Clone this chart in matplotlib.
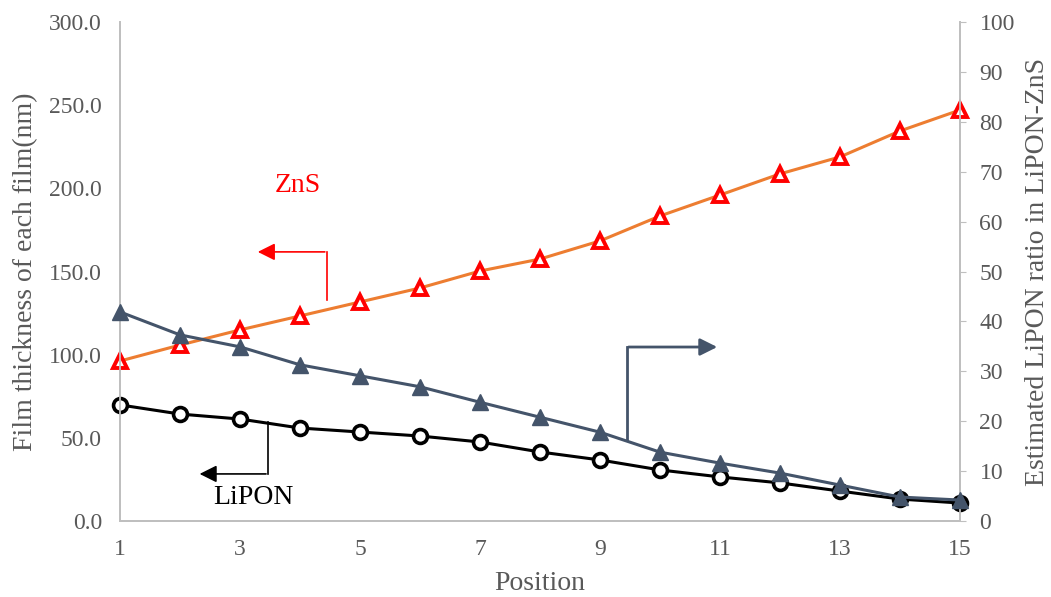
import numpy as np
import matplotlib.pyplot as plt

plt.rcParams['font.family'] = ['Liberation Serif', 'DejaVu Serif']

# datos
posicion = list(range(1, 16))
zns = [96.2, 105.8, 114.9, 123.3, 131.7, 140.1, 150.3, 157.5, 168.4, 183.4, 196.0, 208.7, 218.9, 234.5, 247.1]
lipon = [69.8, 64.3, 61.3, 55.9, 53.5, 51.1, 47.5, 41.5, 36.7, 30.7, 26.5, 22.9, 18.0, 13.2, 10.8]
ratio = [41.9, 37.3, 34.9, 31.3, 29.1, 26.9, 23.8, 20.8, 17.8, 13.8, 11.6, 9.6, 7.2, 4.8, 4.2]

x_ticks = [1, 3, 5, 7, 9, 11, 13, 15]
gris = '#BFBFBF'
gris_txt = '#595959'
azul = '#44546A'

fig = plt.figure(figsize=(10.51, 5.97), dpi=100)
ax = fig.add_axes([0.1142, 0.1273, 0.7992, 0.8358])
ax2 = ax.twinx()

ax.plot(posicion, zns, color='#ED7D31', lw=2.2, marker='^', ms=10, mfc='white', mec='red', mew=2.8, zorder=3, clip_on=False)
ax.plot(posicion, lipon, color='black', lw=2.2, marker='o', ms=10, mfc='white', mec='black', mew=2.6, zorder=3, clip_on=False)
ax2.plot(posicion, ratio, color=azul, lw=2.2, marker='^', ms=11, mfc=azul, mec=azul, zorder=3, clip_on=False)

ax.set_xlim(1, 15)
ax.set_ylim(0, 300)
ax2.set_ylim(0, 100)
ax.set_xticks(x_ticks)
ax.set_yticks(np.arange(0, 301, 50))
ax.set_yticklabels([f'{v:.1f}' for v in np.arange(0, 301, 50)])
ax2.set_yticks(np.arange(0, 101, 10))

for a in (ax, ax2):
    for s in a.spines.values():
        s.set_color(gris)
        s.set_linewidth(1.3)
    a.spines['top'].set_visible(False)
ax.tick_params(axis='y', length=0, labelsize=17, labelcolor=gris_txt, pad=13)
ax.tick_params(axis='x', length=0, labelsize=17, labelcolor=gris_txt, pad=13)
ax2.tick_params(axis='y', length=4, color=gris, labelsize=17, labelcolor=gris_txt, pad=10)

ax.set_xlabel('Position', fontsize=20, color=gris_txt, labelpad=8)
ax.set_ylabel('Film thickness of each film(nm)', fontsize=20, color=gris_txt, labelpad=8)
ax2.set_ylabel('Estimated LiPON ratio in LiPON-ZnS', fontsize=20, color=gris_txt, labelpad=7)

# flechas indicadoras
ax.plot([4.45, 4.45], [132.9, 161.8], color='red', lw=1.2, zorder=2)
ax.annotate('', xy=(3.25, 161.8), xytext=(4.46, 161.8),
            arrowprops=dict(arrowstyle='-|>', color='red', lw=1.2, mutation_scale=26))
ax.text(3.97, 202, 'ZnS', color='red', fontsize=20, ha='center', va='center')

ax.plot([3.47, 3.47], [59.5, 28.3], color='black', lw=1.2, zorder=2)
ax.annotate('', xy=(2.28, 28.3), xytext=(3.48, 28.3),
            arrowprops=dict(arrowstyle='-|>', color='black', lw=1.2, mutation_scale=26))
ax.text(3.23, 14.4, 'LiPON', color='black', fontsize=20, ha='center', va='center')

ax.plot([9.45, 9.45], [48.7, 104.6], color=azul, lw=2, zorder=2)
ax.annotate('', xy=(11.0, 104.6), xytext=(9.43, 104.6),
            arrowprops=dict(arrowstyle='-|>', color=azul, lw=2, mutation_scale=26))

fig.savefig('out.png', dpi=100)
